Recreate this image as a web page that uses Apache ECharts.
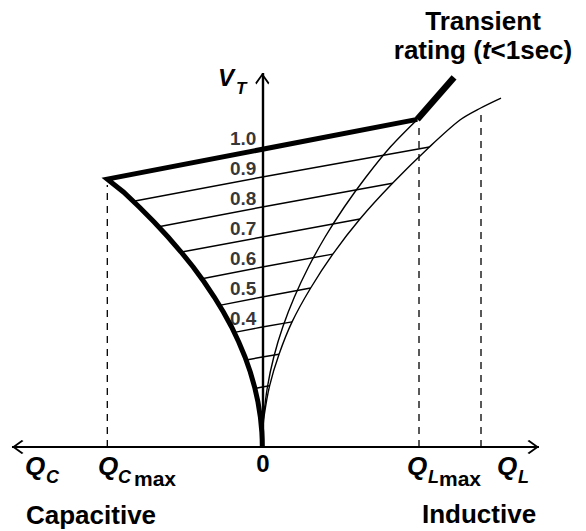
<!DOCTYPE html>
<html>
<head>
<meta charset="utf-8">
<script src="https://cdn.jsdelivr.net/npm/echarts@6/dist/echarts.min.js"></script>
<style>
html,body{margin:0;padding:0;background:#fff;}
#chart{width:586px;height:531px;}
</style>
</head>
<body>
<div id="chart"></div>
<script>
// ---- data (Q = reactive power, per-unit of Qmax; V = terminal voltage, p.u.) ----
const tickValues = [1.0, 0.9, 0.8, 0.7, 0.6, 0.5, 0.4];
const tickLabels = ['1.0', '0.9', '0.8', '0.7', '0.6', '0.5', '0.4'];

// capacitive limit (thick curve) from origin up to Q_Cmax corner
const capacitiveLimit = [[0,0],[-0.0008,0.025],[-0.0031,0.05],[-0.0124,0.1],[-0.0279,0.15],[-0.0496,0.2],[-0.0775,0.25],[-0.1116,0.3],[-0.152,0.35],[-0.198,0.4],[-0.251,0.45],[-0.31,0.5],[-0.375,0.55],[-0.446,0.6],[-0.524,0.65],[-0.608,0.7],[-0.698,0.75],[-0.794,0.8],[-0.896,0.85],[-1.0,0.893]];
// steady-state rating line (thick) from Q_Cmax to Q_Lmax
const ratingLine = [[-1.0,0.893],[1.0,1.092]];
// transient rating (t<1sec)
const transientLine = [[1.0,1.092],[1.237,1.232]];
// inductive limit curve (thin, inner)
const inductiveLimit = [[0,0],[0.0021,0.05],[0.0083,0.1],[0.033,0.2],[0.074,0.3],[0.132,0.4],[0.207,0.5],[0.298,0.6],[0.405,0.7],[0.529,0.8],[0.669,0.9],[0.826,1.0],[1.0,1.092]];
// outer inductive curve (thin)
const outerInductive = [[0,0],[0.0028,0.05],[0.011,0.101],[0.047,0.204],[0.108,0.309],[0.192,0.417],[0.312,0.53],[0.455,0.643],[0.63,0.76],[0.84,0.879],[1.078,1.0],[1.275,1.09],[1.409,1.13],[1.54,1.163]];

// operating (slope) lines: reference voltage, left end, right end
const vRef = [0.9, 0.8, 0.7, 0.6, 0.5, 0.4, 0.3, 0.2, 0.1];
const lineLeft = [[-0.822,0.82],[-0.66,0.735],[-0.52,0.65],[-0.389,0.561],[-0.276,0.472],[-0.179,0.382],[-0.103,0.29],[-0.047,0.195],[-0.012,0.099]];
const lineRight = [[1.078,1.0],[0.84,0.879],[0.63,0.76],[0.455,0.643],[0.312,0.53],[0.192,0.417],[0.108,0.309],[0.047,0.204],[0.011,0.101]];

// dashed guides: Q position and top V
const dashedQ = [-1.0, 1.011, 1.411];
const dashedTop = [0.873, 1.073, 1.117];

// axis extents
const qAxisLeft = -1.615, qAxisRight = 1.785, vAxisTop = 1.2467;

// ---- chart ----
const F = '"Liberation Sans", Arial, Helvetica, sans-serif';
const chart = echarts.init(document.getElementById('chart'), null, {renderer: 'svg'});
const chevron = 'path://M0,0L12,10L10.2,11.8L0,3.2L-10.2,11.8L-12,10ZM0,-11.8L0.01,-11.8L0,-11.75Z';

const series = [];

vRef.forEach((v, i) => {
  series.push({
    type: 'line', data: [lineLeft[i], [0, v], lineRight[i]],
    symbol: 'none', silent: true, z: 3,
    lineStyle: {color: '#000', width: 1.4}
  });
});
dashedQ.forEach((q, i) => {
  series.push({
    type: 'line', data: [[q, 0], [q, dashedTop[i]]],
    symbol: 'none', silent: true, z: 2,
    lineStyle: {color: '#000', width: 1.3, type: [7, 6]}
  });
});
series.push({
  type: 'line', data: inductiveLimit, symbol: 'none', smooth: 0.3, silent: true, z: 3,
  lineStyle: {color: '#000', width: 1.4}
});
series.push({
  type: 'line', data: outerInductive, symbol: 'none', smooth: 0.3, silent: true, z: 3,
  lineStyle: {color: '#000', width: 1.4}
});
series.push({
  type: 'line', data: capacitiveLimit.concat(ratingLine.slice(1)), symbol: 'none', silent: true, z: 5,
  lineStyle: {color: '#000', width: 5, join: 'miter', cap: 'butt'}
});
series.push({
  type: 'line', data: transientLine, symbol: 'none', silent: true, z: 5,
  lineStyle: {color: '#000', width: 6.5, cap: 'butt'}
});
series.push({
  type: 'line', data: [], silent: true, z: 4,
  markLine: {
    silent: true, animation: false,
    symbolSize: [14, 23],
    label: {show: false},
    emphasis: {disabled: true},
    data: [
      [{coord: [qAxisLeft, 0], symbol: chevron, lineStyle: {color: '#000', width: 2, type: 'solid'}},
       {coord: [qAxisRight, 0], symbol: chevron}],
      [{coord: [0, 0], symbol: 'none', lineStyle: {color: '#000', width: 2.4, type: 'solid'}},
       {coord: [0, vAxisTop], symbol: chevron}]
    ]
  }
});
series.push({
  type: 'scatter', silent: true, z: 6,
  symbolSize: 0,
  data: tickValues.map((v, i) => [0, v, tickLabels[i]]),
  label: {
    show: true, position: 'left', distance: 6, offset: [0, -9],
    formatter: p => p.data[2],
    color: '#000', fontFamily: F, fontSize: 19, fontWeight: 'bold'
  }
});

function txt(text, x, y, size, opts) {
  opts = opts || {};
  return {
    type: 'text', x: x, y: y, silent: true, z: 10,
    style: Object.assign({
      text: text, fill: '#000',
      fontFamily: F, fontSize: size, fontWeight: 'bold',
      fontStyle: opts.italic ? 'italic' : 'normal',
      align: opts.align || 'left', verticalAlign: 'middle'
    }, opts.extra || {})
  };
}

const richBase = {fontFamily: F, fontSize: 26, fontWeight: 'bold', fill: '#000', lineHeight: 29};

const graphics = [
  txt('Q', 25, 466, 26, {italic: true}),
  txt('C', 46, 477, 18, {italic: true}),
  txt('Q', 98, 466, 26, {italic: true}),
  txt('C', 118, 477, 18, {italic: true}),
  txt('max', 134, 478, 21),
  txt('0', 263, 463, 24, {align: 'center'}),
  txt('Q', 407, 466, 26, {italic: true}),
  txt('L', 428, 477, 18, {italic: true}),
  txt('max', 439, 478, 21),
  txt('Q', 497, 466, 26, {italic: true}),
  txt('L', 518, 477, 18, {italic: true}),
  txt('Capacitive', 26, 515, 26),
  txt('Inductive', 422, 514, 26),
  txt('{n|Transient}\n{n|rating (}{i|t}{n|<1sec)}', 483, 35, 26, {align: 'center', extra: {
    lineHeight: 29,
    rich: {
      n: Object.assign({}, richBase),
      i: Object.assign({}, richBase, {fontStyle: 'italic'})
    }
  }}),
  txt('V', 218, 77, 24, {italic: true}),
  txt('T', 236, 88, 17, {italic: true})
];

chart.setOption({
  animation: false,
  backgroundColor: '#fff',
  grid: {left: 0, right: 0, top: 0, bottom: 0},
  xAxis: {type: 'value', min: -1.6923, max: 2.0884, show: false},
  yAxis: {type: 'value', min: -0.28, max: 1.49, show: false},
  tooltip: {show: false},
  series: series,
  graphic: graphics
});
</script>
</body>
</html>
